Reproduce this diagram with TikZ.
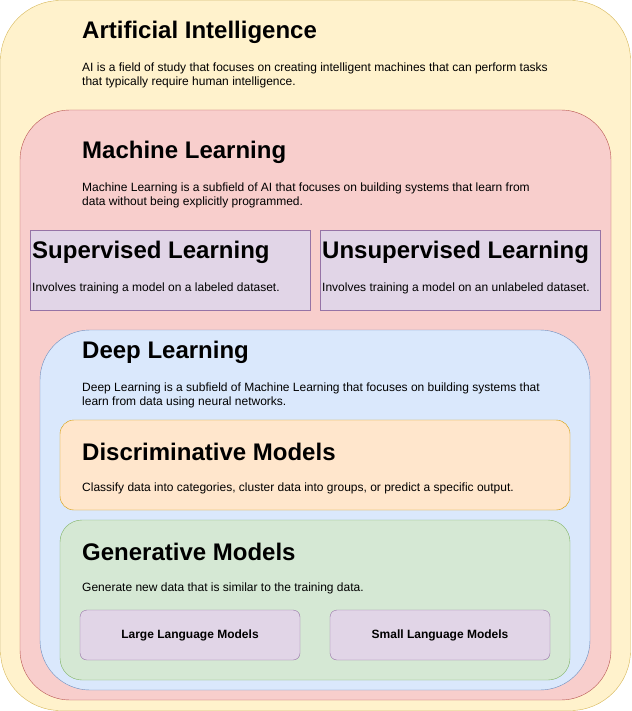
\documentclass[tikz,border=0pt]{standalone}
\usepackage{fontspec}
\setmainfont{Liberation Sans}
\definecolor{aiF}{HTML}{FFF2CC}\definecolor{aiD}{HTML}{D6B656}
\definecolor{mlF}{HTML}{F8CECC}\definecolor{mlD}{HTML}{B85450}
\definecolor{puF}{HTML}{E1D5E7}\definecolor{puD}{HTML}{9673A6}
\definecolor{dlF}{HTML}{DAE8FC}\definecolor{dlD}{HTML}{6C8EBF}
\definecolor{orF}{HTML}{FFE6CC}\definecolor{orD}{HTML}{D79B00}
\definecolor{grF}{HTML}{D5E8D4}\definecolor{grD}{HTML}{82B366}
\begin{document}
\begin{tikzpicture}[x=1pt,y=-1pt,
  ttl/.style={anchor=west,font=\bfseries\fontsize{24}{28}\selectfont,inner sep=0pt},
  body/.style={anchor=north west,font=\fontsize{12}{14}\selectfont,inner sep=0pt,align=left},
  small/.style={font=\bfseries\fontsize{12}{14}\selectfont}]
\useasboundingbox (0,0) rectangle (631,711);
\draw[fill=aiF,draw=aiD,rounded corners=60] (0.5,0.5) rectangle (630.5,710.5);
\node[ttl] (t1) at (82,32) {Artificial Intelligence};
\node[body] (b1) at (82,63) {AI is a field of study that focuses on creating intelligent machines that can perform tasks\\that typically require human intelligence.};
\draw[fill=mlF,draw=mlD,rounded corners=50] (20,110) rectangle (611,700);
\node[ttl] (t2) at (82,152) {Machine Learning};
\node[body] (b2) at (82,183) {Machine Learning is a subfield of AI that focuses on building systems that learn from\\data without being explicitly programmed.};
\draw[fill=puF,draw=puD] (30,230) rectangle (310,310);
\node[ttl] (t3) at (32,252) {Supervised Learning};
\node[body] (b3) at (32,283) {Involves training a model on a labeled dataset.};
\draw[fill=puF,draw=puD] (320,230) rectangle (600,310);
\node[ttl] (t4) at (322,252) {Unsupervised Learning};
\node[body] (b4) at (322,283) {Involves training a model on an unlabeled dataset.};
\draw[fill=dlF,draw=dlD,rounded corners=50] (40,330) rectangle (590,690);
\node[ttl] (t5) at (82,352) {Deep Learning};
\node[body] (b5) at (82,383) {Deep Learning is a subfield of Machine Learning that focuses on building systems that\\learn from data using neural networks.};
\draw[fill=orF,draw=orD,rounded corners=14] (60,420) rectangle (570,510);
\node[ttl] (t6) at (82,452) {Discriminative Models};
\node[body] (b6) at (82,483) {Classify data into categories, cluster data into groups, or predict a specific output.};
\draw[fill=grF,draw=grD,rounded corners=22] (60,520) rectangle (570,680);
\node[ttl] (t7) at (82,552) {Generative Models};
\node[body] (b7) at (82,583) {Generate new data that is similar to the training data.};
\draw[fill=puF,draw=puD,rounded corners=7] (80,610) rectangle (300,660);
\node[small] (l1) at (190,635) {Large Language Models};
\draw[fill=puF,draw=puD,rounded corners=7] (330,610) rectangle (550,660);
\node[small] (l2) at (440,635) {Small Language Models};
\end{tikzpicture}
\end{document}
